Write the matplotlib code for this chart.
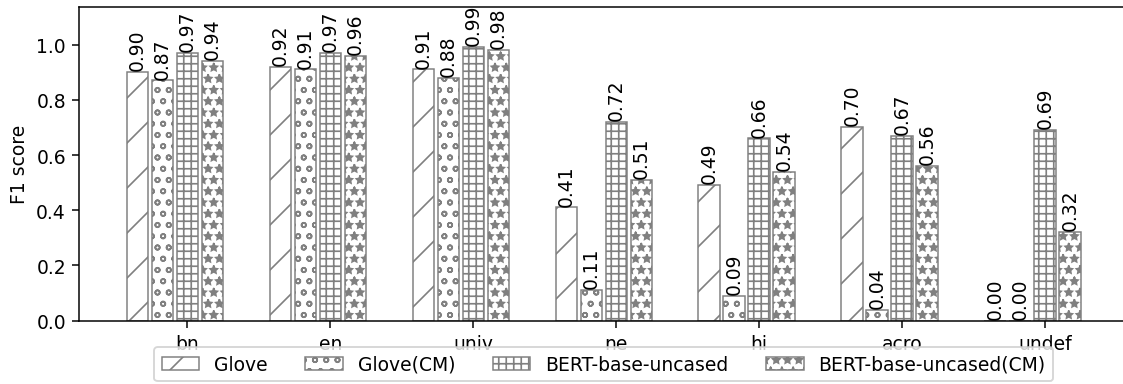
import numpy as np
import matplotlib.pyplot as plt

# F1 scores per language tag
categories = ['bn', 'en', 'univ', 'ne', 'hi', 'acro', 'undef']
models = ['Glove', 'Glove(CM)', 'BERT-base-uncased', 'BERT-base-uncased(CM)']
glove = [0.90, 0.92, 0.91, 0.41, 0.49, 0.70, 0.00]
glove_cm = [0.87, 0.91, 0.88, 0.11, 0.09, 0.04, 0.00]
bert = [0.97, 0.97, 0.99, 0.72, 0.66, 0.67, 0.69]
bert_cm = [0.94, 0.96, 0.98, 0.51, 0.54, 0.56, 0.32]

scores = [glove, glove_cm, bert, bert_cm]
hatches = ['/', 'oo', '+++', '**']

plt.rcParams['hatch.linewidth'] = 0.9

DPI = 135
fig = plt.figure(figsize=(1123/DPI, 385/DPI), dpi=DPI)
ax = fig.add_axes([79/1123, (385-321.7)/385, 1049.5/1123, 314.2/385])

x = np.arange(len(categories))
w = 0.15
step = 0.175

for i in range(4):
    pos = x + (i-2)*step
    bars = ax.bar(pos, scores[i], w, color='white', edgecolor='#808080',
                  linewidth=0.8, hatch=hatches[i], label=models[i])
    for p, h in zip(pos, scores[i]):
        ax.text(p, h+0.007, '%.2f' % h, rotation=90, ha='center', va='bottom', fontsize=10)

ax.set_xticks(x)
ax.set_xticklabels(categories)
ax.set_xlim(-0.759, 6.584)
ax.set_ylim(0, 1.138)
ax.set_ylabel('F1 score')

ax.legend(loc='upper center', bbox_to_anchor=(0.5, -0.0847), ncol=4, borderaxespad=0)

fig.savefig('out.png', dpi=DPI)
